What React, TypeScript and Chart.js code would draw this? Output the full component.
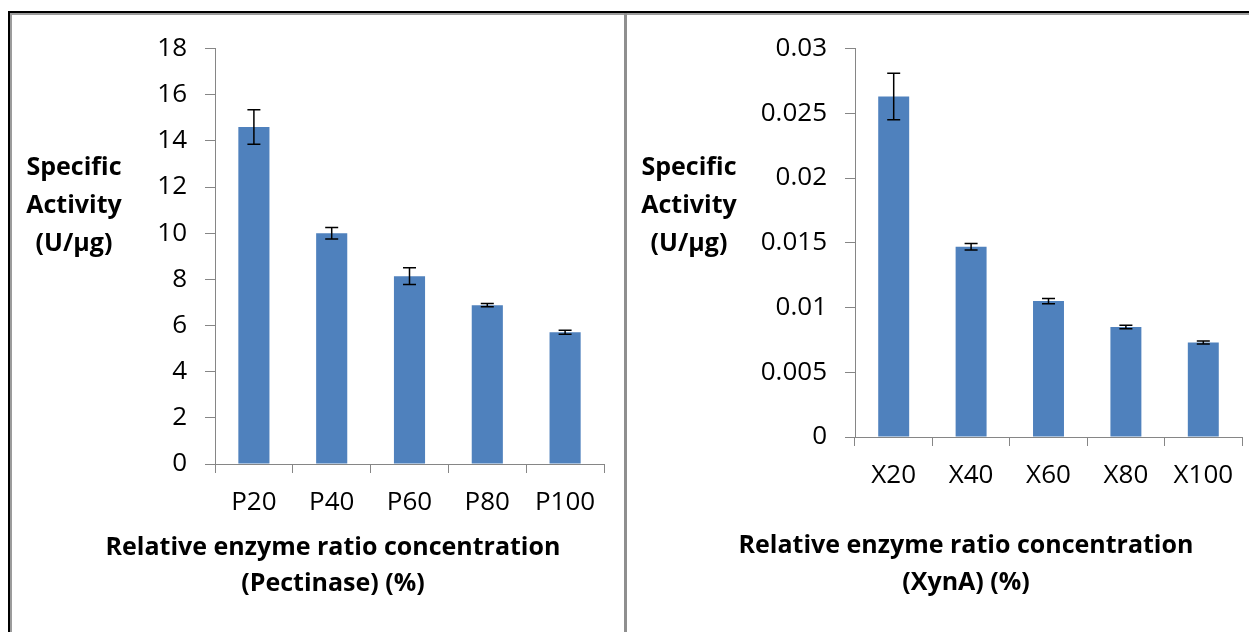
import React, { useEffect, useRef } from "react";
import { Chart, registerables } from "chart.js";

Chart.register(...registerables);

// ---------- data ----------
const pectinaseCategories = ["P20", "P40", "P60", "P80", "P100"];
const pectinaseActivity = [14.6, 10.0, 8.14, 6.88, 5.71];
const pectinaseError = [0.75, 0.25, 0.36, 0.07, 0.09];
const pectinaseTicks = ["0", "2", "4", "6", "8", "10", "12", "14", "16", "18"];

const xynCategories = ["X20", "X40", "X60", "X80", "X100"];
const xynActivity = [0.0263, 0.0147, 0.0105, 0.0085, 0.0073];
const xynError = [0.0018, 0.00025, 0.0002, 0.00013, 0.00012];
const xynTicks = ["0", "0.005", "0.01", "0.015", "0.02", "0.025", "0.03"];

const yTitleLines = ["Specific", "Activity", "(U/µg)"];
const pectinaseXTitle = ["Relative enzyme ratio concentration", "(Pectinase) (%)"];
const xynXTitle = ["Relative enzyme ratio concentration", "(XynA) (%)"];

// ---------- styles ----------
const FONT = "'Open Sans', 'DejaVu Sans', sans-serif";
const BAR_COLOR = "#4F81BD";
const AXIS_COLOR = "#868686";

const errorBarPlugin = {
  id: "errorBars",
  afterDatasetsDraw(chart: any, _args: any, opts: any) {
    const errs: number[] = opts.errors || [];
    const meta = chart.getDatasetMeta(0);
    const yScale = chart.scales.y;
    const vals = chart.data.datasets[0].data as number[];
    const ctx = chart.ctx;
    ctx.save();
    ctx.strokeStyle = "#000";
    ctx.lineWidth = 1.5;
    meta.data.forEach((el: any, i: number) => {
      const v = vals[i];
      const e = errs[i] || 0;
      const yT = yScale.getPixelForValue(v + e);
      const yB = yScale.getPixelForValue(v - e);
      const x = el.x;
      const cap = 6.5;
      ctx.beginPath();
      ctx.moveTo(x, yT);
      ctx.lineTo(x, yB);
      ctx.moveTo(x - cap, yT);
      ctx.lineTo(x + cap, yT);
      ctx.moveTo(x - cap, yB);
      ctx.lineTo(x + cap, yB);
      ctx.stroke();
    });
    ctx.restore();
  },
};

const titlesPlugin = {
  id: "freeTitles",
  afterDraw(chart: any, _args: any, opts: any) {
    const ctx = chart.ctx;
    ctx.save();
    ctx.fillStyle = "#000";
    ctx.textAlign = "center";
    ctx.textBaseline = "middle";
    ctx.font = `bold ${opts.size}px ${FONT}`;
    (opts.yLines as string[]).forEach((t, i) => {
      ctx.fillText(t, opts.yX, opts.yY + i * opts.gap);
    });
    (opts.xLines as string[]).forEach((t, i) => {
      ctx.fillText(t, opts.xX, opts.xY + i * opts.xGap);
    });
    ctx.restore();
  },
};

type Props = {
  categories: string[];
  values: number[];
  errors: number[];
  tickLabels: string[];
  yMax: number;
  step: number;
  xTitle: string[];
  width: number;
  height: number;
  yAxisWidth: number;
  xAxisHeight: number;
  padTop: number;
  padRight: number;
  titles: { yX: number; yY: number; gap: number; xX: number; xY: number; xGap: number };
  left: number;
  top: number;
};

function BarPanel(p: Props) {
  const ref = useRef<HTMLCanvasElement | null>(null);
  useEffect(() => {
    if (!ref.current) return;
    const chart = new Chart(ref.current, {
      type: "bar",
      data: {
        labels: p.categories,
        datasets: [
          {
            data: p.values,
            backgroundColor: BAR_COLOR,
            borderWidth: 0,
            categoryPercentage: 1,
            barPercentage: 0.4,
          },
        ],
      },
      options: {
        responsive: false,
        animation: false,
        events: [],
        layout: { padding: { top: p.padTop, right: p.padRight, left: 0, bottom: 0 } },
        plugins: {
          legend: { display: false },
          tooltip: { enabled: false },
          errorBars: { errors: p.errors },
          freeTitles: { ...p.titles, size: 25, yLines: yTitleLines, xLines: p.xTitle },
        } as any,
        scales: {
          x: {
            grid: {
              display: true,
              drawOnChartArea: false,
              drawTicks: true,
              tickLength: 9,
              color: AXIS_COLOR,
              offset: true,
            },
            border: { display: true, color: AXIS_COLOR, width: 1 },
            ticks: {
              color: "#000",
              font: { family: FONT, size: 26 },
              padding: 14,
              maxRotation: 0,
              autoSkip: false,
            },
            afterFit: (s: any) => {
              s.height = p.xAxisHeight;
            },
          },
          y: {
            min: 0,
            max: p.yMax,
            grid: {
              display: true,
              drawOnChartArea: false,
              drawTicks: true,
              tickLength: 10,
              color: AXIS_COLOR,
            },
            border: { display: true, color: AXIS_COLOR, width: 1 },
            ticks: {
              stepSize: p.step,
              color: "#000",
              font: { family: FONT, size: 26 },
              padding: 18,
              callback: (_v: any, i: number) => p.tickLabels[i],
            },
            afterFit: (s: any) => {
              s.width = p.yAxisWidth;
            },
          },
        },
      },
      plugins: [errorBarPlugin, titlesPlugin],
    } as any);
    return () => chart.destroy();
  }, []);
  return (
    <canvas
      ref={ref}
      width={p.width}
      height={p.height}
      style={{ position: "absolute", left: p.left, top: p.top, width: p.width, height: p.height }}
    />
  );
}

export default function App() {
  return (
    <div style={{ position: "fixed", left: 0, top: 0, width: 1249, height: 632, overflow: "hidden", background: "#fff" }}>
      {/* frame */}
      <div style={{ position: "absolute", left: 8, top: 11, width: 1241, height: 2, background: "#000" }} />
      <div style={{ position: "absolute", left: 10, top: 13, width: 1239, height: 2, background: "#9c9c9c" }} />
      <div style={{ position: "absolute", left: 8, top: 11, width: 2, height: 621, background: "#000" }} />
      <div style={{ position: "absolute", left: 10, top: 13, width: 2, height: 619, background: "#9c9c9c" }} />
      <div style={{ position: "absolute", left: 624, top: 13, width: 3, height: 619, background: "#8f8f8f" }} />

      <BarPanel
        categories={pectinaseCategories}
        values={pectinaseActivity}
        errors={pectinaseError}
        tickLabels={pectinaseTicks}
        yMax={18}
        step={2}
        xTitle={pectinaseXTitle}
        width={612}
        height={617}
        yAxisWidth={203}
        xAxisHeight={168}
        padTop={31}
        padRight={20}
        titles={{ yX: 62, yY: 153, gap: 38, xX: 321, xY: 533, xGap: 36 }}
        left={12}
        top={15}
      />
      <BarPanel
        categories={xynCategories}
        values={xynActivity}
        errors={xynError}
        tickLabels={xynTicks}
        yMax={0.03}
        step={0.005}
        xTitle={xynXTitle}
        width={622}
        height={617}
        yAxisWidth={228}
        xAxisHeight={195}
        padTop={31}
        padRight={7}
        titles={{ yX: 62, yY: 153, gap: 38, xX: 339, xY: 531, xGap: 37 }}
        left={627}
        top={15}
      />
    </div>
  );
}
